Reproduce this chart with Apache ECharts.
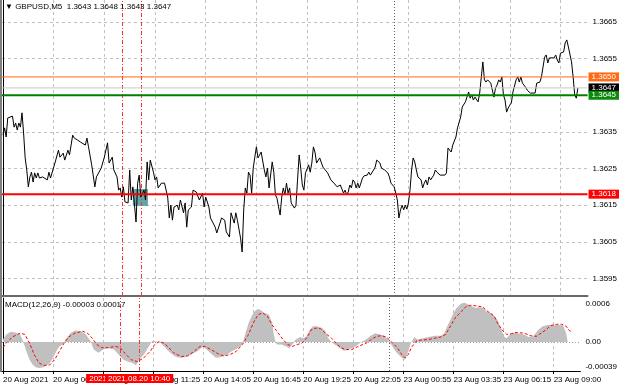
<!DOCTYPE html>
<html><head><meta charset="utf-8">
<script src="https://cdn.jsdelivr.net/npm/echarts@6/dist/echarts.min.js"></script>
<style>html,body{margin:0;padding:0;background:#fff}#c{width:620px;height:388px}</style>
</head><body><div id="c"></div>
<script>
// ---- data ----
const priceBars = [0,1,2,3,6,7,8,9,10,11,12,13,14,15,16,17,18,19,20,21,22,23,25,28,29,30,31,33,35,36,38,39,41,42,44,45,47,49,50,52,53,54,56,58,59,60,62,63,64,66,67,69,70,71,72,73,74,75,76,77,79,80,81,82,84,85,86,87,89,90,91,92,93,95,96,97,98,100,102,104,105,106,107,108,110,111,112,114,115,116,117,119,120,122,123,124,126,127,128,130,131,132,134,135,137,138,140,141,143,144,145,146,147,148,150,151,152,153,154,155,156,157,158,159,160,161,163,164,165,166,167,168,170,171,172,173,174,175,176,177,178,179,180,181,182,184,185,186,187,188,189,190,191,193,194,195,196,197,198,200,202,203,205,207,209,211,213,215,216,217,218,219,220,221,222,223,224,225,227,228,230,231,232,234,235,236,238,239,241,243,244,245,247,248,249,250,251,252,253,254,255,256,257,258,259,260,261,262,264,265,266,267,268,269,270,272,273,274,276,279,280,281,283,284,286,287,288,289,290,291,292,294,295,296,297,298,300,301,303,304,305,306,308,309,310,311,312,313,314,315,316,317,318,319,320,321,322,324,325,326,327,328,329,330,331,333,334,336,337,339,340,341,342,343,344,345,346,348,349,350,351,352,354,355,356,357,359,360,361,362,363];
const priceValues = [1.36341,1.36361,1.36336,1.36388,1.36393,1.36363,1.36374,1.36355,1.36374,1.36363,1.36402,1.36347,1.36279,1.36246,1.36200,1.36227,1.36240,1.36213,1.36238,1.36224,1.36238,1.36224,1.36227,1.36219,1.36240,1.36224,1.36227,1.36268,1.36300,1.36281,1.36292,1.36273,1.36300,1.36287,1.36341,1.36333,1.36328,1.36322,1.36322,1.36314,1.36333,1.36309,1.36260,1.36200,1.36227,1.36224,1.36251,1.36254,1.36281,1.36320,1.36265,1.36281,1.36246,1.36251,1.36227,1.36191,1.36197,1.36172,1.36200,1.36159,1.36156,1.36246,1.36164,1.36200,1.36104,1.36210,1.36232,1.36172,1.36191,1.36164,1.36268,1.36219,1.36273,1.36240,1.36219,1.36227,1.36197,1.36210,1.36210,1.36172,1.36115,1.36150,1.36109,1.36145,1.36150,1.36137,1.36164,1.36129,1.36156,1.36090,1.36137,1.36145,1.36191,1.36186,1.36183,1.36164,1.36183,1.36145,1.36172,1.36145,1.36115,1.36118,1.36090,1.36074,1.36101,1.36115,1.36109,1.36077,1.36063,1.36129,1.36115,1.36101,1.36129,1.36109,1.36060,1.36022,1.36137,1.36197,1.36183,1.36240,1.36232,1.36183,1.36251,1.36281,1.36309,1.36279,1.36295,1.36300,1.36246,1.36227,1.36251,1.36197,1.36268,1.36240,1.36178,1.36169,1.36145,1.36123,1.36172,1.36197,1.36178,1.36210,1.36183,1.36197,1.36156,1.36142,1.36150,1.36219,1.36287,1.36251,1.36205,1.36191,1.36238,1.36260,1.36240,1.36265,1.36309,1.36295,1.36265,1.36279,1.36254,1.36251,1.36238,1.36219,1.36210,1.36200,1.36205,1.36183,1.36191,1.36178,1.36186,1.36205,1.36197,1.36219,1.36213,1.36197,1.36210,1.36197,1.36224,1.36230,1.36232,1.36240,1.36232,1.36246,1.36254,1.36273,1.36265,1.36251,1.36246,1.36238,1.36227,1.36210,1.36200,1.36183,1.36164,1.36115,1.36137,1.36150,1.36137,1.36150,1.36139,1.36156,1.36191,1.36246,1.36279,1.36268,1.36246,1.36227,1.36219,1.36197,1.36210,1.36219,1.36205,1.36227,1.36219,1.36232,1.36246,1.36240,1.36232,1.36232,1.36238,1.36306,1.36295,1.36314,1.36336,1.36361,1.36363,1.36391,1.36418,1.36415,1.36432,1.36459,1.36442,1.36451,1.36437,1.36445,1.36432,1.36456,1.36541,1.36492,1.36486,1.36492,1.36483,1.36486,1.36445,1.36470,1.36478,1.36492,1.36486,1.36500,1.36451,1.36437,1.36404,1.36415,1.36423,1.36429,1.36459,1.36492,1.36500,1.36486,1.36500,1.36483,1.36478,1.36472,1.36464,1.36456,1.36451,1.36456,1.36483,1.36486,1.36500,1.36527,1.36554,1.36560,1.36538,1.36552,1.36554,1.36552,1.36560,1.36546,1.36538,1.36565,1.36568,1.36593,1.36601,1.36582,1.36541,1.36500,1.36451,1.36442,1.36470];

const histBars = [0,2,5,8,11,13,15,17,19,21,23,26,30,32,34,36,39,40,43,46,50,53,56,58,61,64,67,71,74,77,80,83,85,87,90,92,94,95,98,101,103,106,110,113,116,120,124,128,133,136,139,143,146,150,153,155,157,159,161,163,165,167,170,172,173,174,175,178,181,183,185,187,190,192,194,196,198,201,204,206,208,210,212,215,218,221,224,227,229,232,235,238,241,244,246,247,249,251,253,255,257,258,260,261,263,265,267,272,276,280,282,284,286,288,290,293,295,298,300,302,304,307,309,312,314,316,318,320,322,324,326,329,333,336,339,342,345,348,351,355,358,360,361,362,363];
const histValues = [0.00004,0.00012,0.00016,0.00015,0.00012,0.0,-0.00015,-0.00028,-0.00036,-0.00040,-0.00041,-0.00040,-0.00033,-0.00025,-0.00015,-0.00007,-0.00002,0.00004,0.00014,0.00018,0.00017,0.00012,0.00001,-0.00012,-0.00017,-0.00012,-0.00010,-0.00012,-0.00020,-0.00028,-0.00031,-0.00033,-0.00037,-0.00028,-0.00020,-0.00012,-0.00004,0.00001,0.00001,-0.00002,-0.00007,-0.00015,-0.00023,-0.00025,-0.00024,-0.00020,-0.00015,-0.00007,-0.00018,-0.00025,-0.00024,-0.00020,-0.00015,-0.00010,-0.00004,0.00014,0.00030,0.00041,0.00049,0.00052,0.00050,0.00046,0.00043,0.00030,0.00014,0.00002,-0.00004,-0.00004,-0.00007,-0.00010,-0.00004,0.00004,0.00008,0.00006,0.00009,0.00019,0.00025,0.00025,0.00022,0.00017,0.00006,0.0,-0.00004,-0.00009,-0.00014,-0.00012,-0.00009,-0.00004,0.0,0.00004,0.00010,0.00014,0.00012,0.00009,0.00004,0.0,-0.00007,-0.00015,-0.00020,-0.00025,-0.00028,-0.00023,-0.00007,0.0,0.00008,0.00004,0.00005,0.00008,0.00010,0.00010,0.00014,0.00025,0.00035,0.00046,0.00054,0.00061,0.00062,0.00059,0.00056,0.00054,0.00055,0.00054,0.00048,0.00046,0.00041,0.00035,0.00025,0.00009,0.00006,0.00012,0.00015,0.00014,0.00012,0.00008,0.00009,0.00019,0.00025,0.00027,0.00027,0.00027,0.00026,0.00014,0.0,-0.00003,-0.00003];

const signalBars = [0,2,6,11,14,17,20,23,26,30,33,36,39,42,46,51,54,57,60,63,67,72,75,78,82,86,90,94,97,100,103,106,109,114,118,122,126,129,133,137,141,145,149,153,157,160,163,166,169,172,176,179,182,185,188,191,194,197,200,203,206,210,213,216,219,223,227,232,236,239,242,245,248,252,255,257,259,261,264,267,272,276,280,283,286,289,293,296,299,303,307,310,314,316,319,322,325,328,333,337,341,344,347,350,354,357,360,362,363];
const signalValues = [-0.00009,-0.00002,0.00008,0.00014,0.00012,-0.00002,-0.00020,-0.00033,-0.00037,-0.00036,-0.00028,-0.00015,-0.00002,0.00008,0.00014,0.00017,0.00014,0.00006,-0.00004,-0.00009,-0.00009,-0.00007,-0.00009,-0.00018,-0.00028,-0.00031,-0.00025,-0.00015,-0.00004,0.00001,-0.00002,-0.00009,-0.00017,-0.00023,-0.00022,-0.00015,-0.00007,-0.00007,-0.00012,-0.00018,-0.00022,-0.00020,-0.00015,-0.00004,0.00012,0.00030,0.00043,0.00046,0.00041,0.00027,0.00014,0.00004,-0.00004,-0.00007,-0.00004,-0.00002,0.00006,0.00019,0.00022,0.00021,0.00014,0.00006,-0.00002,-0.00009,-0.00012,-0.00012,-0.00007,-0.00002,0.00005,0.00009,0.00010,0.00008,0.00001,-0.00009,-0.00020,-0.00025,-0.00020,-0.00009,0.00001,0.00003,0.00004,0.00006,0.00008,0.00012,0.00025,0.00038,0.00048,0.00056,0.00058,0.00057,0.00055,0.00048,0.00041,0.00030,0.00019,0.00012,0.00013,0.00015,0.00014,0.00010,0.00009,0.00014,0.00019,0.00026,0.00028,0.00028,0.00025,0.00018,0.00017];

const timeTicks = [0,32,64,96,128,160,192,224,256,288,320,352];
const timeLabels = ['20 Aug 2021','20 Aug 06:05','20 Aug 08:45','20 Aug 11:25','20 Aug 14:05','20 Aug 16:45','20 Aug 19:25','20 Aug 22:05','23 Aug 00:55','23 Aug 03:35','23 Aug 06:15','23 Aug 09:00'];
const priceTicks = [1.3595,1.3605,1.3615,1.3625,1.3635,1.3645,1.3655,1.3665];
const macdTicks = [-0.00039,0,0.0006];
const macdTickLabels = ['-0.00039','0.00','0.0006'];
const levelValues = [1.3650,1.3647,1.3645,1.3618];
const cursorBars = [75,87];
const cursorLabels = ['2021.08.20 09:40','2021.08.20 10:40'];
const separatorBar = 247;
const boxBars = [82,91.5];
const boxPrices = [1.36194,1.36148];
const titleText = '\u25BC GBPUSD,M5  1.3643 1.3648 1.3643 1.3647';
const macdText = 'MACD(12,26,9) -0.00003 0.00017';

// ---- chart ----
const zip = (a,b) => a.map((v,i) => [v,b[i]]);
const FONT = 'Liberation Sans';
const levelStyles = [
  {color:'#ff6a13', width:1, bg:'#ff6a13'},
  {color:'#c8c8c8', width:1, bg:'#000000'},
  {color:'#008000', width:2, bg:'#0b8a0b'},
  {color:'#ff0000', width:2, bg:'#ff0000'}
];
const xMin = -0.63, xMax = 369.1;
const gridSplit = {show:true, lineStyle:{color:'#c0c0c0', type:[3,3], width:1}};

const levelSeries = levelValues.map((v,i)=>({
  type:'line', xAxisIndex:0, yAxisIndex:0, data:[[xMin,v],[xMax,v]], symbol:'none', silent:true, z:6+i,
  lineStyle:{color:levelStyles[i].color, width:levelStyles[i].width},
  endLabel:{show:true, distance:1, formatter:v.toFixed(4), color:'#fff', backgroundColor:levelStyles[i].bg,
            fontSize:8, fontFamily:FONT, padding:[1,3,0,3]}
}));

const chart = echarts.init(document.getElementById('c'), null, {renderer:'canvas'});
chart.setOption({
  animation:false,
  backgroundColor:'#ffffff',
  textStyle:{fontFamily:FONT},
  title:[
    {text:titleText, left:5, top:3, padding:0, textStyle:{fontSize:8, fontWeight:'normal', color:'#000', fontFamily:FONT}},
    {text:macdText, left:5, top:301, padding:0, textStyle:{fontSize:8, fontWeight:'normal', color:'#000', fontFamily:FONT}}
  ],
  grid:[
    {left:2, top:0, width:586, height:296},
    {left:2, top:298, width:586, height:73}
  ],
  xAxis:[
    {type:'value', gridIndex:0, min:xMin, max:xMax,
     axisLine:{show:true, onZero:false, lineStyle:{color:'#6a6a6a', width:2}},
     axisTick:{show:false, customValues:timeTicks},
     axisLabel:{show:false, customValues:timeTicks},
     splitLine:gridSplit},
    {type:'value', gridIndex:1, min:xMin, max:xMax,
     axisLine:{show:true, onZero:false, lineStyle:{color:'#000', width:1}},
     axisTick:{show:true, customValues:timeTicks, length:3, lineStyle:{color:'#000'}},
     axisLabel:{show:true, customValues:timeTicks, align:'left', margin:5, fontSize:8, color:'#000', fontFamily:FONT,
       formatter:(v)=>{const i=timeTicks.indexOf(v); return i>=0?timeLabels[i]:'';}},
     splitLine:gridSplit}
  ],
  yAxis:[
    {type:'value', gridIndex:0, position:'right', min:1.35902, max:1.3671,
     axisLine:{show:true, lineStyle:{color:'#000', width:1}},
     axisTick:{show:false, customValues:priceTicks},
     axisLabel:{show:true, customValues:priceTicks, margin:5, fontSize:8, color:'#000', fontFamily:FONT,
       formatter:(v)=>v.toFixed(4)},
     splitLine:gridSplit},
    {type:'value', gridIndex:1, position:'right', min:-0.000458, max:0.000695,
     axisLine:{show:true, lineStyle:{color:'#000', width:1}},
     axisTick:{show:false, customValues:[0]},
     axisLabel:{show:true, customValues:macdTicks, margin:5, fontSize:8, color:'#000', fontFamily:FONT,
       formatter:(v)=>{let best=0; macdTicks.forEach((t,i)=>{if(Math.abs(t-v)<Math.abs(macdTicks[best]-v)) best=i;}); return macdTickLabels[best];}},
     splitLine:{show:true, lineStyle:{color:'#a0a0a0', type:[1,2], width:1}}}
  ],
  series:[
    {type:'line', xAxisIndex:0, yAxisIndex:0, data:zip(priceBars,priceValues), symbol:'none', z:5,
     lineStyle:{color:'#000', width:1},
     markArea:{silent:true, z:1, itemStyle:{color:'#4f9a9c', opacity:0.9},
       data:[[{xAxis:boxBars[0], yAxis:boxPrices[0]},{xAxis:boxBars[1], yAxis:boxPrices[1]}]]},
     markLine:{silent:true, symbol:['none','none'], z:3,
       data: cursorBars.map(b=>({xAxis:b, lineStyle:{color:'#ff3030', width:1, type:[4,2,1,2]}, label:{show:false}}))
         .concat([{xAxis:separatorBar, lineStyle:{color:'#606060', width:1, type:[1,2]}, label:{show:false}}])
     }},
    ...levelSeries,
    {type:'line', xAxisIndex:1, yAxisIndex:1, data:zip(histBars,histValues), symbol:'none', z:2,
     lineStyle:{width:0}, areaStyle:{color:'#c0c0c0', opacity:1},
     markLine:{silent:true, symbol:['none','none'], z:3,
       data: cursorBars.map((b,i)=>({xAxis:b, lineStyle:{color:'#ff3030', width:1, type:[4,2,1,2]},
          label:{show:true, position:'start', distance:3, formatter:cursorLabels[i], color:'#fff', backgroundColor:'#ff0000',
                 fontSize:8, fontFamily:FONT, padding:[1,3,0,3]}}))
         .concat([{xAxis:separatorBar, lineStyle:{color:'#606060', width:1, type:[1,2]}, label:{show:false}}])
     }},
    {type:'line', xAxisIndex:1, yAxisIndex:1, data:zip(signalBars,signalValues), symbol:'none', z:4,
     lineStyle:{color:'#ff0000', width:1, type:[3,2]}}
  ],
  graphic:[
    {type:'rect', left:0, top:0, shape:{width:2, height:372}, style:{fill:'#808080'}, silent:true}
  ]
});
</script>
</body></html>
